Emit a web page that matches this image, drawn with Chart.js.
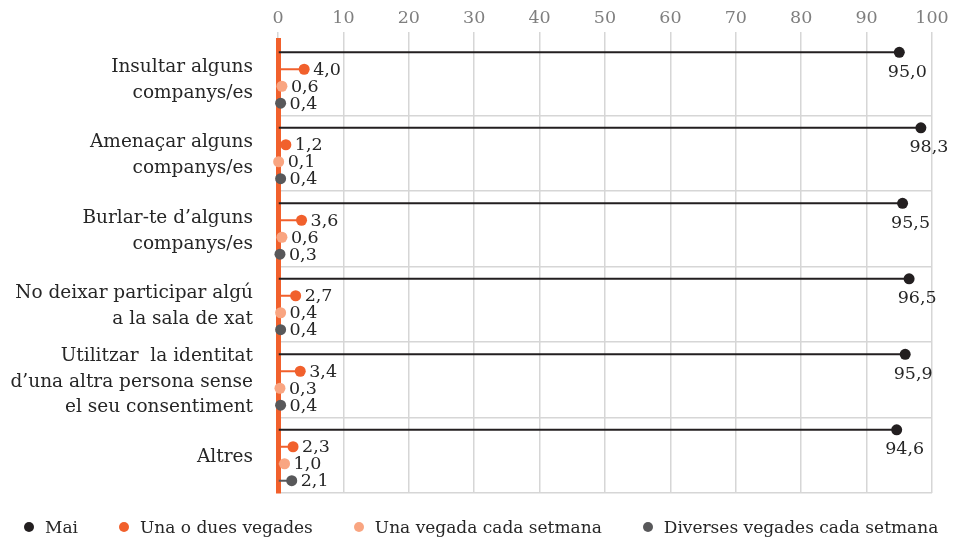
<!DOCTYPE html>
<html>
<head>
<meta charset="utf-8">
<script src="https://cdn.jsdelivr.net/npm/chart.js@4.4.1/dist/chart.umd.min.js"></script>
<style>
	body { margin: 0; background: #fff; }
	#wrap { position: relative; width: 954px; height: 539px; }
	#js-legend { position: absolute; left: 0; top: 514px; width: 954px; }
	.chart-legend { list-style: none; margin: 0; padding: 0 0 0 24px; display: flex; gap: 41px;
		font: 17px "DejaVu Serif", serif; color: #262626; }
	.chart-legend li { display: flex; align-items: center; height: 26px; }
	.chart-legend .dot { display: inline-block; width: 10px; height: 10px; border-radius: 50%; margin-right: 11px; }
</style>
</head>
<body>
<div id="wrap">
	<canvas id="lollipopChart" width="954" height="539"></canvas>
	<div id="js-legend"></div>
</div>
<script>
var categories = [
	['Insultar alguns', 'companys/es'],
	['Amenaçar alguns', 'companys/es'],
	['Burlar-te d\u2019alguns', 'companys/es'],
	['No deixar participar algú', 'a la sala de xat'],
	['Utilitzar  la identitat', 'd\u2019una altra persona sense', 'el seu consentiment'],
	['Altres']
];
var seriesNames = ['Mai', 'Una o dues vegades', 'Una vegada cada setmana', 'Diverses vegades cada setmana'];
var mai       = [95.0, 98.3, 95.5, 96.5, 95.9, 94.6];
var unaODues  = [4.0, 1.2, 3.6, 2.7, 3.4, 2.3];
var setmanal  = [0.6, 0.1, 0.6, 0.4, 0.3, 1.0];
var diverses  = [0.4, 0.4, 0.3, 0.4, 0.4, 2.1];
var xTicks    = [0, 10, 20, 30, 40, 50, 60, 70, 80, 90, 100];

var colors = ['#231f20', '#f1602c', '#f9a581', '#58585a'];
var axisOrange = '#f1602c';
var serif = '"DejaVu Serif", serif';

function fmt(v){
	return v.toFixed(1).replace('.', ',');
}

// dots at the end of each stem + value labels
var lollipopPlugin = {
	id: 'lollipop',
	afterDatasetsDraw: function(chart){
		var ctx = chart.ctx;
		ctx.save();
		chart.data.datasets.forEach(function(ds, di){
			var meta = chart.getDatasetMeta(di);
			meta.data.forEach(function(el, i){
				ctx.fillStyle = ds.dotColor;
				ctx.beginPath();
				ctx.arc(el.x, el.y, 5.5, 0, Math.PI * 2);
				ctx.fill();

				ctx.fillStyle = '#262626';
				ctx.font = '17.5px ' + serif;
				ctx.textBaseline = 'middle';
				if (di === 0) {
					ctx.textAlign = 'center';
					ctx.fillText(fmt(ds.data[i]), el.x + 8, el.y + 20);
				} else {
					ctx.textAlign = 'left';
					ctx.fillText(fmt(ds.data[i]), el.x + 9, el.y + 1);
				}
			});
		});
		ctx.restore();
	}
};

var values = [mai, unaODues, setmanal, diverses];
var datasets = values.map(function(v, i){
	return {
		label: seriesNames[i],
		data: v,
		backgroundColor: colors[i],
		dotColor: colors[i],
		borderWidth: 0,
		categoryPercentage: 0.9,
		barPercentage: 0.118
	};
});

var ctx = document.getElementById('lollipopChart').getContext('2d');
var lollipopChart = new Chart(ctx, {
	type: 'bar',
	data: { labels: categories, datasets: datasets },
	plugins: [lollipopPlugin],
	options: {
		indexAxis: 'y',
		responsive: false,
		animation: false,
		layout: { padding: { left: 0, right: 22, top: 0, bottom: 46 } },
		plugins: {
			legend: { display: false },
			tooltip: { enabled: false }
		},
		scales: {
			x: {
				position: 'top',
				min: 0,
				max: 100,
				afterBuildTicks: function(scale){
					scale.ticks = xTicks.map(function(v){ return { value: v }; });
				},
				afterFit: function(scale){ scale.height = 40; },
				grid: { color: '#d6d6d6', lineWidth: 1.5, tickLength: 8 },
				border: { display: false },
				ticks: { color: '#7f7f7f', padding: 3, font: { family: serif, size: 17.5 } }
			},
			y: {
				afterFit: function(scale){
					scale.width = 278;
					scale.paddingTop = 0;
					scale.paddingBottom = 0;
				},
				grid: {
					drawTicks: false,
					lineWidth: 1.5,
					color: function(c){ return c.index === 0 ? 'rgba(0,0,0,0)' : '#d6d6d6'; }
				},
				border: { color: axisOrange, width: 5 },
				ticks: {
					color: '#262626',
					autoSkip: false,
					padding: 25,
					labelOffset: 2,
					font: { family: serif, size: 18.5, lineHeight: 1.4 }
				}
			}
		}
	}
});

// html legend built from the datasets
var legendHtml = [];
legendHtml.push('<ul class="chart-legend">');
lollipopChart.data.datasets.forEach(function(ds){
	legendHtml.push('<li>');
	legendHtml.push('<span class="dot" style="background-color:' + ds.dotColor + '"></span>');
	legendHtml.push('<span>' + ds.label + '</span>');
	legendHtml.push('</li>');
});
legendHtml.push('</ul>');
document.getElementById('js-legend').innerHTML = legendHtml.join('');
</script>
</body>
</html>
